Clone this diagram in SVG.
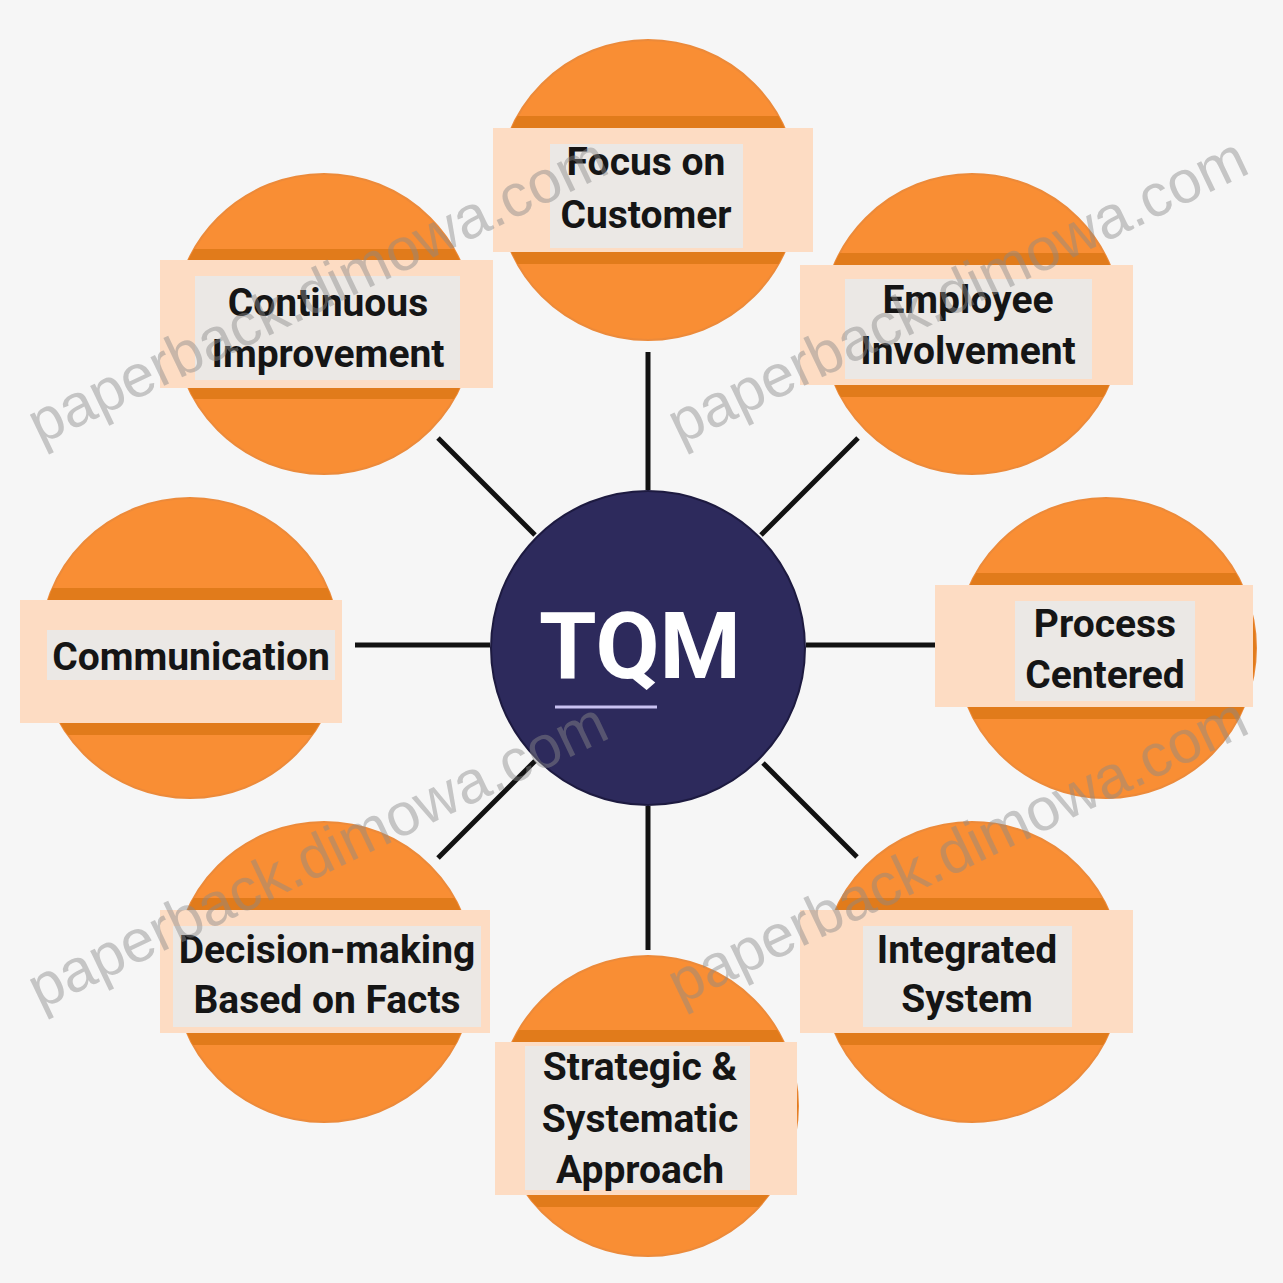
<svg xmlns="http://www.w3.org/2000/svg" width="1283" height="1283" viewBox="0 0 1283 1283">
<style>
.bg{fill:#f6f6f6}
.ring{fill:#f98e34;stroke:#ec8a3a;stroke-width:2}
.stripe{fill:#e17b1b}
.band{fill:#fddcc3}
.inner{fill:#ebe8e5}
.lbl{font-family:Roboto,"Liberation Sans",Arial,sans-serif;font-weight:700;font-size:39px;fill:#151515;text-anchor:middle}
.conn{stroke:#121212;stroke-width:5;stroke-linecap:butt}
.hub{fill:#2d2a5c;stroke:#1d1a40;stroke-width:2}
.hubtxt{font-family:Roboto,"Liberation Sans",Arial,sans-serif;font-weight:700;font-size:93px;fill:#ffffff;text-anchor:middle}
.wm{font-family:"Liberation Sans",Arial,sans-serif;font-size:60px;fill:#8a8a8a;opacity:0.45}
</style>
<defs>
<clipPath id="c1"><circle cx="648" cy="190" r="150"/></clipPath>
<clipPath id="c2"><circle cx="972" cy="324" r="150"/></clipPath>
<clipPath id="c3"><circle cx="1106" cy="648" r="150"/></clipPath>
<clipPath id="c4"><circle cx="972" cy="972" r="150"/></clipPath>
<clipPath id="c5"><circle cx="648" cy="1106" r="150"/></clipPath>
<clipPath id="c6"><circle cx="324" cy="972" r="150"/></clipPath>
<clipPath id="c7"><circle cx="190" cy="648" r="150"/></clipPath>
<clipPath id="c8"><circle cx="324" cy="324" r="150"/></clipPath>
</defs>
<rect class="bg" x="0" y="0" width="1283" height="1283"/>

<g id="connectors">
<line class="conn" x1="648" y1="490" x2="648" y2="352"/>
<line class="conn" x1="761" y1="535" x2="858" y2="438"/>
<line class="conn" x1="806" y1="645" x2="935" y2="645"/>
<line class="conn" x1="763" y1="763" x2="857" y2="857"/>
<line class="conn" x1="648" y1="806" x2="648" y2="950"/>
<line class="conn" x1="535" y1="761" x2="438" y2="858"/>
<line class="conn" x1="490" y1="645" x2="355" y2="645"/>
<line class="conn" x1="535" y1="535" x2="438" y2="438"/>
</g>

<g id="node-focus">
<circle class="ring" cx="648" cy="190" r="150"/>
<rect class="stripe" x="490" y="116" width="320" height="148" clip-path="url(#c1)"/>
<rect class="band" x="493" y="128" width="320" height="124"/>
<rect class="inner" x="550" y="144" width="193" height="104"/>
<text class="lbl" x="646" y="175">Focus on</text>
<text class="lbl" x="646" y="228">Customer</text>
</g>

<g id="node-employee">
<circle class="ring" cx="972" cy="324" r="150"/>
<rect class="stripe" x="815" y="253" width="320" height="144" clip-path="url(#c2)"/>
<rect class="band" x="800" y="265" width="333" height="120"/>
<rect class="inner" x="845" y="279" width="247" height="100"/>
<text class="lbl" x="968" y="313">Employee</text>
<text class="lbl" x="968" y="364">Involvement</text>
</g>

<g id="node-process">
<circle class="ring" cx="1106" cy="648" r="150"/>
<rect class="stripe" x="950" y="573" width="320" height="146" clip-path="url(#c3)"/>
<rect class="band" x="935" y="585" width="318" height="122"/>
<rect class="inner" x="1015" y="601" width="180" height="100"/>
<text class="lbl" x="1105" y="637">Process</text>
<text class="lbl" x="1105" y="688">Centered</text>
</g>

<g id="node-integrated">
<circle class="ring" cx="972" cy="972" r="150"/>
<rect class="stripe" x="815" y="898" width="320" height="147" clip-path="url(#c4)"/>
<rect class="band" x="800" y="910" width="333" height="123"/>
<rect class="inner" x="863" y="926" width="209" height="101"/>
<text class="lbl" x="967" y="963">Integrated</text>
<text class="lbl" x="967" y="1012">System</text>
</g>

<g id="node-strategic">
<circle class="ring" cx="648" cy="1106" r="150"/>
<rect class="stripe" x="490" y="1030" width="320" height="177" clip-path="url(#c5)"/>
<rect class="band" x="495" y="1042" width="302" height="153"/>
<rect class="inner" x="525" y="1046" width="225" height="144"/>
<text class="lbl" x="640" y="1080">Strategic &amp;</text>
<text class="lbl" x="640" y="1132">Systematic</text>
<text class="lbl" x="640" y="1183">Approach</text>
</g>

<g id="node-decision">
<circle class="ring" cx="324" cy="972" r="150"/>
<rect class="stripe" x="165" y="898" width="320" height="147" clip-path="url(#c6)"/>
<rect class="band" x="160" y="910" width="330" height="123"/>
<rect class="inner" x="173" y="926" width="308" height="101"/>
<text class="lbl" x="327" y="963">Decision-making</text>
<text class="lbl" x="327" y="1013">Based on Facts</text>
</g>

<g id="node-communication">
<circle class="ring" cx="190" cy="648" r="150"/>
<rect class="stripe" x="30" y="588" width="320" height="147" clip-path="url(#c7)"/>
<rect class="band" x="20" y="600" width="322" height="123"/>
<rect class="inner" x="47" y="630" width="288" height="50"/>
<text class="lbl" x="191" y="670">Communication</text>
</g>

<g id="node-continuous">
<circle class="ring" cx="324" cy="324" r="150"/>
<rect class="stripe" x="165" y="249" width="320" height="150" clip-path="url(#c8)"/>
<rect class="band" x="160" y="260" width="333" height="128"/>
<rect class="inner" x="195" y="276" width="265" height="104"/>
<text class="lbl" x="328" y="316">Continuous</text>
<text class="lbl" x="328" y="367">Improvement</text>
</g>

<g id="node-tqm">
<circle class="hub" cx="648" cy="648" r="157"/>
<text class="hubtxt" x="640" y="678">TQM</text>
<line x1="555" y1="707" x2="657" y2="707" stroke="#c9c2f2" stroke-width="3"/>
</g>

<g id="watermark">
<text class="wm" transform="translate(40,445) rotate(-25.5)">paperback.dimowa.com</text>
<text class="wm" transform="translate(680,445) rotate(-25.5)">paperback.dimowa.com</text>
<text class="wm" transform="translate(40,1010) rotate(-25.5)">paperback.dimowa.com</text>
<text class="wm" transform="translate(680,1005) rotate(-25.5)">paperback.dimowa.com</text>
</g>
</svg>
